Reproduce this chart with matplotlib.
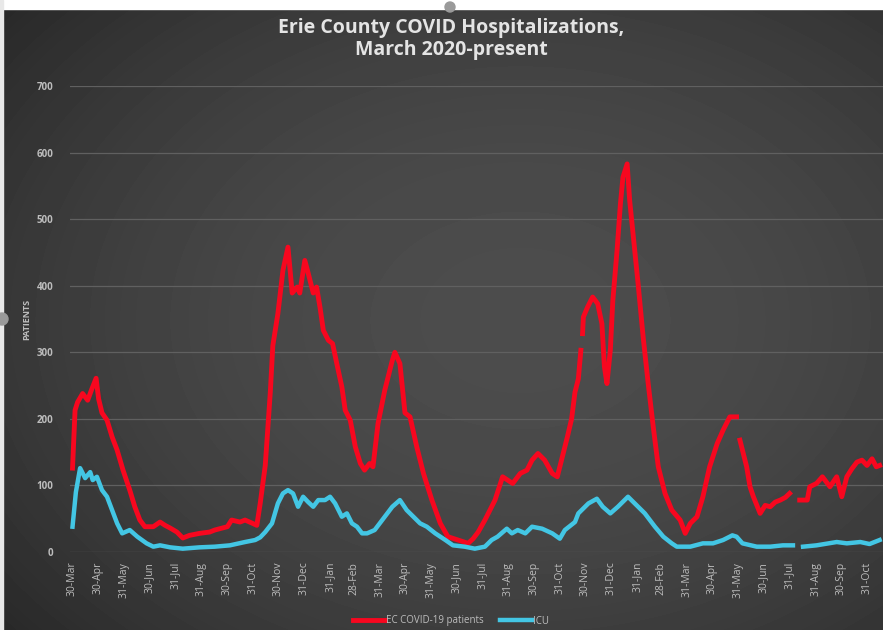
import numpy as np
import pandas as pd
import matplotlib
matplotlib.use('Agg')
import matplotlib.pyplot as plt
import matplotlib.dates as mdates
from matplotlib.patches import Circle, Rectangle

# EC COVID-19 hospitalized patients (None = gap in the series)
hosp_dates = [
    '2020-03-31', '2020-04-03', '2020-04-06', '2020-04-12', '2020-04-18', '2020-04-23', '2020-04-28',
    '2020-05-01', '2020-05-05', '2020-05-11', '2020-05-17', '2020-05-23', '2020-05-30',
    '2020-06-07', '2020-06-13', '2020-06-19', '2020-06-25', '2020-07-05', '2020-07-13', '2020-07-19',
    '2020-07-25', '2020-08-02', '2020-08-09', '2020-08-17', '2020-08-29', '2020-09-10', '2020-09-16',
    '2020-10-01', '2020-10-06', '2020-10-16', '2020-10-22', '2020-10-31', '2020-11-05', '2020-11-09',
    '2020-11-15', '2020-11-21', '2020-11-24', '2020-11-30', '2020-12-06', '2020-12-12', '2020-12-17',
    '2020-12-23', '2020-12-26', '2021-01-01', '2021-01-05', '2021-01-11', '2021-01-15', '2021-01-19',
    '2021-01-23', '2021-01-29', '2021-02-03', '2021-02-08', '2021-02-14', '2021-02-18', '2021-02-24',
    '2021-03-02', '2021-03-08', '2021-03-13', '2021-03-19', '2021-03-23', '2021-03-29', '2021-04-06',
    '2021-04-15', '2021-04-18', '2021-04-24', '2021-04-30', '2021-05-06', '2021-05-14', '2021-05-22',
    '2021-06-01', '2021-06-11', '2021-06-20', '2021-07-02', '2021-07-14', '2021-07-20', '2021-07-26',
    '2021-08-03', '2021-08-15', '2021-08-24', '2021-08-30', '2021-09-05', '2021-09-14', '2021-09-22',
    '2021-09-28', '2021-10-05', '2021-10-13', '2021-10-22', '2021-10-28', '2021-11-03', '2021-11-09',
    '2021-11-14', '2021-11-18', '2021-11-22', '2021-11-25', '2021-11-26', '2021-11-27', '2021-11-28',
    '2021-12-03', '2021-12-09', '2021-12-15', '2021-12-20', '2021-12-23', '2021-12-26', '2021-12-30',
    '2022-01-02', '2022-01-07', '2022-01-11', '2022-01-14', '2022-01-19', '2022-01-22', '2022-01-26',
    '2022-02-01', '2022-02-07', '2022-02-13', '2022-02-19', '2022-02-25', '2022-03-05', '2022-03-13',
    '2022-03-23', '2022-03-29', '2022-04-04', '2022-04-12', '2022-04-19', '2022-04-27', '2022-05-06',
    '2022-05-13', '2022-05-21', '2022-05-29', '2022-05-31', '2022-06-02', '2022-06-10', '2022-06-14',
    '2022-06-18', '2022-06-26', '2022-07-02', '2022-07-08', '2022-07-14', '2022-07-20', '2022-07-26',
    '2022-07-31', '2022-08-03', '2022-08-12', '2022-08-21', '2022-08-24', '2022-09-01', '2022-09-08',
    '2022-09-17', '2022-09-25', '2022-10-01', '2022-10-07', '2022-10-13', '2022-10-19', '2022-10-25',
    '2022-10-31', '2022-11-06', '2022-11-11', '2022-11-15',
]
hosp_values = [
    126, 213, 225, 238, 228, 245, 261,
    230, 209, 198, 173, 153, 123,
    93, 68, 48, 38, 38, 45, 40,
    36, 30, 21, 25, 28, 30, 33,
    38, 48, 45, 48, 43, 40, 73,
    130, 240, 310, 358, 423, 458, 389,
    398, 389, 438, 419, 389, 398, 368,
    333, 318, 313, 283, 248, 213, 198,
    158, 133, 123, 133, 128, 193, 243,
    288, 300, 283, 209, 203, 158, 118,
    78, 43, 23, 18, 13, 20, 30,
    48, 78, 113, 108, 103, 118, 123,
    138, 148, 138, 118, 113, 143, 173,
    200, 240, 260, 303, None, 328, 353,
    368, 383, 373, 343, 278, 253, 303,
    378, 453, 523, 563, 583, 528, 478,
    403, 323, 253, 188, 128, 88, 63,
    48, 28, 43, 53, 83, 128, 163,
    183, 203, 203, None, 168, 128, 98,
    83, 58, 70, 68, 75, 78, 82,
    88, None, 78, 78, 98, 103, 113,
    98, 113, 83, 113, 125, 135, 138,
    130, 140, 128, 130,
]

# ICU patients
icu_dates = [
    '2020-03-31', '2020-04-04', '2020-04-09', '2020-04-15', '2020-04-21', '2020-04-24', '2020-04-29',
    '2020-05-05', '2020-05-11', '2020-05-17', '2020-05-23', '2020-05-29', '2020-06-07', '2020-06-16',
    '2020-06-27', '2020-07-05', '2020-07-13', '2020-07-25', '2020-08-09', '2020-08-29', '2020-09-16',
    '2020-10-04', '2020-10-22', '2020-11-03', '2020-11-09', '2020-11-15', '2020-11-23', '2020-11-30',
    '2020-12-06', '2020-12-12', '2020-12-18', '2020-12-24', '2020-12-30', '2021-01-05', '2021-01-11',
    '2021-01-17', '2021-01-25', '2021-01-31', '2021-02-06', '2021-02-14', '2021-02-20', '2021-02-26',
    '2021-03-04', '2021-03-10', '2021-03-16', '2021-03-25', '2021-04-06', '2021-04-15', '2021-04-24',
    '2021-05-02', '2021-05-10', '2021-05-18', '2021-05-26', '2021-06-05', '2021-06-17', '2021-06-26',
    '2021-07-10', '2021-07-22', '2021-08-03', '2021-08-11', '2021-08-18', '2021-08-29', '2021-09-04',
    '2021-09-11', '2021-09-20', '2021-09-28', '2021-10-10', '2021-10-22', '2021-10-31', '2021-11-06',
    '2021-11-18', '2021-11-22', '2021-12-04', '2021-12-14', '2021-12-21', '2021-12-30', '2022-01-08',
    '2022-01-20', '2022-01-28', '2022-02-09', '2022-02-21', '2022-03-03', '2022-03-13', '2022-03-19',
    '2022-04-04', '2022-04-19', '2022-05-01', '2022-05-13', '2022-05-24', '2022-05-29', '2022-06-05',
    '2022-06-22', '2022-07-08', '2022-07-23', '2022-08-04', '2022-08-07', '2022-08-16', '2022-09-01',
    '2022-09-25', '2022-10-07', '2022-10-23', '2022-11-03', '2022-11-15',
]
icu_values = [
    38, 90, 126, 111, 120, 108, 113,
    93, 83, 63, 43, 28, 33, 23,
    13, 8, 10, 7, 5, 7, 8,
    10, 15, 18, 22, 30, 43, 73,
    88, 93, 88, 68, 83, 75, 68,
    78, 78, 83, 73, 53, 58, 43,
    38, 28, 28, 33, 53, 68, 78,
    63, 53, 43, 38, 28, 18, 10,
    8, 5, 8, 18, 23, 35, 28,
    33, 28, 38, 35, 28, 20, 33,
    45, 58, 73, 80, 68, 58, 68,
    83, 73, 58, 38, 23, 13, 8,
    8, 13, 13, 18, 25, 23, 13,
    8, 8, 10, 10, None, 8, 10,
    15, 13, 15, 12, 18,
]

tick_dates = [
    '2020-03-30', '2020-04-30', '2020-05-31', '2020-06-30', '2020-07-31', '2020-08-31',
    '2020-09-30', '2020-10-31', '2020-11-30', '2020-12-31', '2021-01-31', '2021-02-28',
    '2021-03-31', '2021-04-30', '2021-05-31', '2021-06-30', '2021-07-31', '2021-08-31',
    '2021-09-30', '2021-10-31', '2021-11-30', '2021-12-31', '2022-01-31', '2022-02-28',
    '2022-03-31', '2022-04-30', '2022-05-31', '2022-06-30', '2022-07-31', '2022-08-31',
    '2022-09-30', '2022-10-31',
]
y_ticks = [0, 100, 200, 300, 400, 500, 600, 700]

RED = '#f7071f'
CYAN = '#43c6e4'
TXT = '#bdbdbd'
W, H = 883, 630

hosp = pd.Series(np.array(hosp_values, dtype=float), index=pd.to_datetime(hosp_dates))
icu = pd.Series(np.array(icu_values, dtype=float), index=pd.to_datetime(icu_dates))
ticks = pd.to_datetime(tick_dates)

fig = plt.figure(figsize=(W / 100, H / 100), dpi=100)
fig.patch.set_facecolor('white')

# dark radial background like the Excel chart area
bg = fig.add_axes([0, 0, 1, 1], zorder=-10)
yy, xx = np.mgrid[0:H, 0:W]
r = np.hypot((xx - 520) / 620, (yy - 320) / 450)
shade = 0.30 - 0.12 * np.clip(r, 0, 1.3) ** 2
bg.imshow(shade, cmap='gray', vmin=0, vmax=1, extent=(0, W, H, 0), aspect='auto')
bg.add_patch(Rectangle((0, 0), W, 9, color='white'))
bg.add_patch(Rectangle((0, 0), 3, H, color='#e8e8e8'))
bg.add_patch(Circle((450, 7), 5, color='#9a9a9a'))
bg.add_patch(Circle((2, 319), 6, color='#9a9a9a'))
bg.set_xlim(0, W)
bg.set_ylim(H, 0)
bg.axis('off')

ax = fig.add_axes([70 / W, (H - 552) / H, (W - 70) / W, 466 / H])
ax.set_facecolor('none')
ax.plot(hosp.index, hosp.values, color=RED, lw=3.5, solid_joinstyle='round',
        label='EC COVID-19 patients')
ax.plot(icu.index, icu.values, color=CYAN, lw=3.2, solid_joinstyle='round', label='ICU')

ax.set_ylim(0, 700)
ax.set_xlim(pd.Timestamp('2020-03-28'), pd.Timestamp('2022-11-19'))
ax.set_yticks(y_ticks)
ax.set_xticks(ticks)
ax.set_xticklabels([d.strftime('%d-%b') for d in ticks], rotation=90, fontsize=7.5,
                   color=TXT, family='Open Sans')
for lab in ax.get_yticklabels():
    lab.set_fontsize(7)
    lab.set_fontweight('bold')
    lab.set_color(TXT)
    lab.set_family('Open Sans')
ax.tick_params(axis='both', length=0)
ax.tick_params(axis='y', pad=12)
ax.tick_params(axis='x', pad=7)
ax.grid(axis='y', color='#606060', lw=0.9)
ax.set_axisbelow(True)
for s in ax.spines.values():
    s.set_visible(False)

fig.text(27 / W, 1 - 319 / H, 'PATIENTS', rotation=90, ha='center', va='center',
         fontsize=6.5, fontweight='bold', color=TXT, family='Open Sans')
fig.text(451 / W, 1 - 39 / H, 'Erie County COVID Hospitalizations,\nMarch 2020-present',
         ha='center', va='center', fontsize=14, fontweight='bold', color='#e4e4e4',
         family='Open Sans', linespacing=1.15)

leg = fig.legend(loc='center', bbox_to_anchor=(451 / W, 1 - 621 / H), ncol=2, frameon=False,
                 fontsize=7, handlelength=3.3, handletextpad=0.15, columnspacing=1.6)
for t in leg.get_texts():
    t.set_color(TXT)
    t.set_family('Open Sans')

fig.savefig('out.png', dpi=100, facecolor=fig.get_facecolor())
